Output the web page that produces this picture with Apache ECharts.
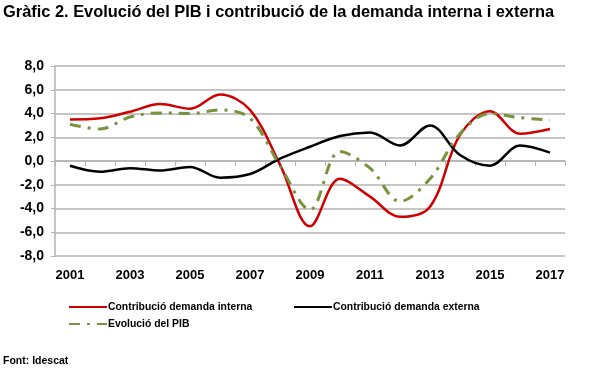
<!DOCTYPE html>
<html><head><meta charset="utf-8">
<script src="https://cdn.jsdelivr.net/npm/echarts@6/dist/echarts.min.js"></script>
<style>html,body{margin:0;padding:0;background:#fff}#c{width:600px;height:374px}</style>
</head><body><div id="c"></div>
<script>
const years = ['2001','2002','2003','2004','2005','2006','2007','2008','2009','2010','2011','2012','2013','2014','2015','2016','2017'];
const interna = [3.5,3.6,4.15,4.8,4.4,5.6,4.3,-0.3,-5.5,-1.5,-3.0,-4.7,-3.85,2.2,4.2,2.3,2.7];
const externa = [-0.4,-0.9,-0.6,-0.8,-0.5,-1.4,-1.1,0.2,1.2,2.1,2.4,1.3,3.0,0.5,-0.4,1.3,0.7];
const pib = [3.1,2.7,3.7,4.05,4.0,4.3,3.6,-0.4,-4.1,0.8,-0.6,-3.4,-1.5,2.3,4.0,3.65,3.45];
const names = ['Contribució demanda interna','Contribució demanda externa','Evolució del PIB'];
const yTicks = {min:-8, max:8, step:2};

const F = 'Liberation Sans, Arial, sans-serif';
const legendText = {fontFamily:F, fontWeight:'bold', fontSize:10.4, color:'#000', padding:[0,0,0,-4]};
const legendBase = {itemWidth:38, itemHeight:12, itemGap:0, padding:0, itemStyle:{opacity:0}, textStyle:legendText};
const chart = echarts.init(document.getElementById('c'));
chart.setOption({
  animation:false,
  textStyle:{fontFamily:F},
  title:[
    {text:'Gràfic 2. Evolució del PIB i contribució de la demanda interna i externa', left:3, top:4, padding:0,
     textStyle:{fontFamily:F, fontWeight:'bold', fontSize:16.4, color:'#000'}},
    {text:'Font: Idescat', left:3, top:356, padding:0,
     textStyle:{fontFamily:F, fontWeight:'bold', fontSize:10.5, color:'#000'}}
  ],
  grid:{left:55, right:35, top:66, bottom:118, containLabel:false},
  legend:[
    Object.assign({data:[names[0]], left:68, top:302}, legendBase),
    Object.assign({data:[names[1]], left:293, top:302}, legendBase),
    Object.assign({data:[names[2]], left:68, top:319}, legendBase)
  ],
  xAxis:[
    {type:'category', data:years, boundaryGap:true,
     axisLine:{onZero:true, lineStyle:{color:'#b3b3b3', width:1.5}},
     axisTick:{show:true, interval:0, length:5, lineStyle:{color:'#b3b3b3'}},
     axisLabel:{show:false}, splitLine:{show:false}},
    {type:'category', data:years, boundaryGap:true, position:'bottom',
     axisLine:{show:false, onZero:false}, axisTick:{show:false},
     axisLabel:{interval:1, margin:13, fontFamily:F, fontWeight:'bold', fontSize:13, color:'#000'}}
  ],
  yAxis:{type:'value', min:yTicks.min, max:yTicks.max, interval:yTicks.step,
    axisLine:{show:true, lineStyle:{color:'#b3b3b3', width:1.5}},
    axisTick:{show:true, length:4, lineStyle:{color:'#b3b3b3'}},
    splitLine:{lineStyle:{color:'#b3b3b3', width:1.5}},
    axisLabel:{margin:11, fontFamily:F, fontWeight:'bold', fontSize:14, color:'#000',
      formatter:v=>v.toFixed(1).replace('.',',')}},
  series:[
    {name:names[0], type:'line', data:interna, smooth:0.35, symbol:'none', xAxisIndex:0,
     lineStyle:{color:'#d00000', width:2.5}, itemStyle:{color:'#d00000'}},
    {name:names[1], type:'line', data:externa, smooth:0.35, symbol:'none', xAxisIndex:0,
     lineStyle:{color:'#000', width:2.5}, itemStyle:{color:'#000'}},
    {name:names[2], type:'line', data:pib, smooth:0.35, symbol:'none', xAxisIndex:0,
     lineStyle:{color:'#77933c', width:3, type:[11,7,3,7]}, itemStyle:{color:'#77933c'}}
  ]
});
</script></body></html>
